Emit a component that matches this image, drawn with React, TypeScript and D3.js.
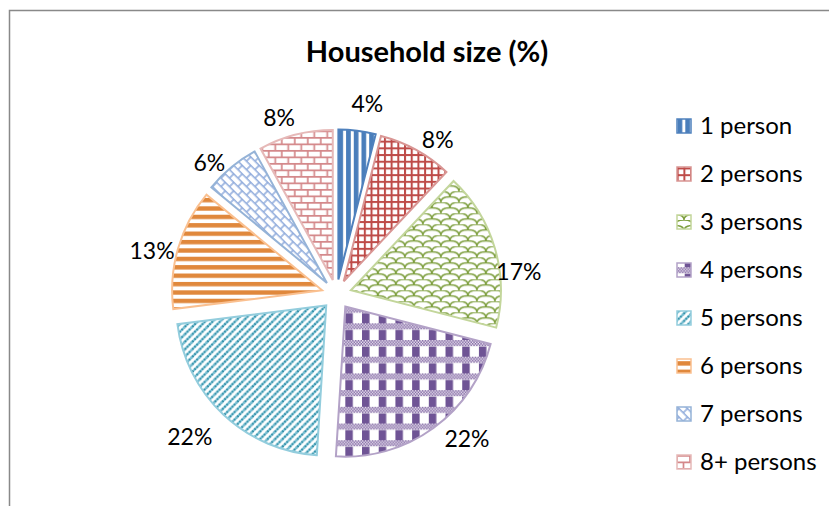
import React from 'react';
import * as d3 from 'd3';

const categories = ['1 person', '2 persons', '3 persons', '4 persons', '5 persons', '6 persons', '7 persons', '8+ persons'];
const values = [4, 8, 17, 22, 22, 13, 6, 8];
const labelTexts = values.map((v) => `${v}%`);
const outlineColors = ['#4F81BD', '#D99694', '#C3D69B', '#B3A2C7', '#93CDDD', '#FAC090', '#95B3D7', '#E6B9B8'];
// layout nudges for data labels (degrees, px), mimicking the spreadsheet's label placement
const labelAngleNudge = [2, 4.5, 9, -6, 2.6, -3, -4.3, -3.6];
const labelRadiusNudge = [10, -3, -10, 2, 11, -5, -5, 1];

const W = 829;
const H = 506;
const cx = 336.5;
const cy = 294.5;
const R = 150;
const EXPLODE = 15;
const LABEL_R = 171;
const FONT = 'Lato, Carlito, Calibri, sans-serif';

function Patterns() {
  const plaidChecks: JSX.Element[] = [];
  const t = 16.7;
  const s = t / 12;
  for (let i = 0; i < 12; i++) {
    for (let r = 0; r < 4; r++) {
      if ((i + r) % 2 === 0) {
        plaidChecks.push(<rect key={`c${i}-${r}`} x={i * s} y={r * 1.5} width={s} height={1.5} fill="#ffffff" opacity={0.85} />);
      }
    }
  }
  return (
    <defs>
      <pattern id="pat0" patternUnits="userSpaceOnUse" width={7.7} height={10}>
        <rect width={7.7} height={10} fill="#fff" />
        <rect x={0} width={4.7} height={10} fill="#4A7EBB" />
      </pattern>
      <pattern id="pat1" patternUnits="userSpaceOnUse" width={6.7} height={6.7}>
        <rect width={6.7} height={6.7} fill="#fff" />
        <rect x={0} width={2} height={6.7} fill="#BE4B48" />
        <rect y={0} width={6.7} height={2} fill="#BE4B48" />
      </pattern>
      <pattern id="pat2" patternUnits="userSpaceOnUse" width={18} height={11}>
        <rect width={18} height={11} fill="#fff" />
        <g fill="none" stroke="#7E9F3F" strokeWidth={1.4}>
          <path d="M0,11 Q0,5.5 9,5.5 Q18,5.5 18,11" />
          <path d="M-9,5.5 Q-9,0 0,0 Q9,0 9,5.5" />
          <path d="M9,5.5 Q9,0 18,0 Q27,0 27,5.5" />
        </g>
      </pattern>
      <pattern id="pat3" patternUnits="userSpaceOnUse" width={t} height={t}>
        <rect width={t} height={t} fill="#fff" />
        <rect x={0} y={0} width={t} height={6} fill="#8064A2" />
        {plaidChecks}
        <rect x={0} y={6.5} width={7.5} height={t - 6.5} fill="#6F5495" />
      </pattern>
      <pattern id="pat4" patternUnits="userSpaceOnUse" width={7.5} height={7.5}>
        <rect width={7.5} height={7.5} fill="#fff" />
        <g stroke="#7CC4D8" strokeWidth={2.2}>
          <path d="M-1,8.5 L8.5,-1" />
          <path d="M-2,2 L2,-2" />
          <path d="M5.5,9.5 L9.5,5.5" />
        </g>
        <g stroke="#2E8BA3" strokeWidth={2.2} strokeDasharray="1.5 1.5">
          <path d="M-1,8.5 L8.5,-1" />
          <path d="M-2,2 L2,-2" />
          <path d="M5.5,9.5 L9.5,5.5" />
        </g>
      </pattern>
      <pattern id="pat5" patternUnits="userSpaceOnUse" width={10} height={8.4}>
        <rect width={10} height={8.4} fill="#fff" />
        <rect y={0} width={10} height={4.4} fill="#E0883C" />
      </pattern>
      <pattern id="pat6" patternUnits="userSpaceOnUse" width={12} height={12} patternTransform="rotate(45)">
        <rect width={12} height={12} fill="#fff" />
        <g stroke="#8EAADB" strokeWidth={1.5} fill="none">
          <path d="M0,0.75 H12 M0,6.75 H12 M1,0.75 V6.75 M7,6.75 V12.75" />
        </g>
      </pattern>
      <pattern id="pat7" patternUnits="userSpaceOnUse" width={13} height={13}>
        <rect width={13} height={13} fill="#fff" />
        <g stroke="#D4888A" strokeWidth={1.7} fill="none">
          <path d="M0,0.85 H13 M0,7.35 H13 M1,0.85 V7.35 M7.5,7.35 V13.85" />
        </g>
      </pattern>
    </defs>
  );
}

export default function App() {
  const pie = d3.pie<number>().sort(null).value((d) => d)(values);
  const arc = d3.arc<d3.PieArcDatum<number>>().innerRadius(0).outerRadius(R);

  const legendX = 677;
  const legendY0 = 126;
  const legendStep = 48;
  const box = 14;

  return (
    <svg width={W} height={H} style={{ position: 'absolute', left: 0, top: 0, background: '#fff' }}>
      <Patterns />
      <rect x={0} y={0} width={W} height={H} fill="#fff" />
      <path d={`M9.5,${H} V10.5 H${W}`} fill="none" stroke="#898989" strokeWidth={1.5} />
      <text x={427} y={62} textAnchor="middle" fontFamily={FONT} fontWeight="bold" fontSize={29} fill="#000">
        Household size (%)
      </text>
      <g>
        {pie.map((p, i) => {
          const mid = (p.startAngle + p.endAngle) / 2;
          const dx = Math.sin(mid) * EXPLODE;
          const dy = -Math.cos(mid) * EXPLODE;
          return (
            <path
              key={i}
              d={arc(p) || ''}
              transform={`translate(${cx + dx},${cy + dy})`}
              fill={`url(#pat${i})`}
              stroke={outlineColors[i]}
              strokeWidth={2}
              strokeLinejoin="miter"
            />
          );
        })}
      </g>
      <g>
        {pie.map((p, i) => {
          const mid = (p.startAngle + p.endAngle) / 2 + (labelAngleNudge[i] * Math.PI) / 180;
          const ux = Math.sin(mid);
          const uy = -Math.cos(mid);
          const tw = labelTexts[i].length * 14.5;
          const th = 20;
          const r = LABEL_R + labelRadiusNudge[i] + (Math.abs(ux) * tw) / 2 + (Math.abs(uy) * th) / 2;
          const x = cx + ux * r;
          const y = cy + uy * r;
          return (
            <text key={i} x={x} y={y} dy="0.35em" textAnchor="middle" fontFamily={FONT} fontSize={23} fill="#000">
              {labelTexts[i]}
            </text>
          );
        })}
      </g>
      <g>
        {categories.map((c, i) => {
          const y = legendY0 + i * legendStep;
          return (
            <g key={c}>
              <rect x={legendX} y={y - box / 2} width={box} height={box} fill={`url(#pat${i})`} stroke={outlineColors[i]} strokeWidth={1.5} />
              <text x={legendX + 23} y={y} dy="0.35em" fontFamily={FONT} fontSize={24} fill="#000">
                {c}
              </text>
            </g>
          );
        })}
      </g>
    </svg>
  );
}
